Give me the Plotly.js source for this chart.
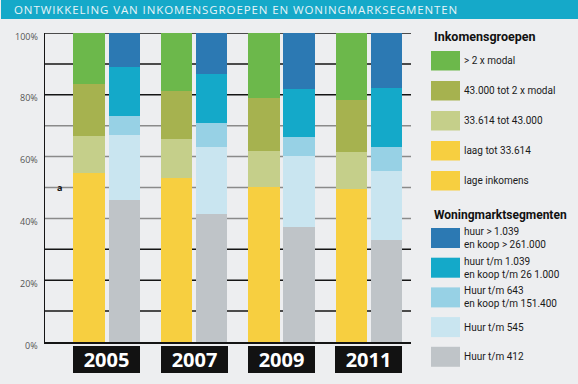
<!DOCTYPE html>
<html>
<head>
<meta charset="utf-8">
<script src="https://cdn.plot.ly/plotly-3.0.1.min.js"></script>
<style>
html,body{margin:0;padding:0;background:#edeef0;}
#chart{width:578px;height:384px;}
</style>
</head>
<body>
<div id="chart"></div>
<script>
// ---------- DATA ----------
const years = ['2005', '2007', '2009', '2011'];

const incomeNames = ['> 2 x modal', '43.000 tot 2 x modal', '33.614 tot 43.000', 'laag tot 33.614', 'lage inkomens'];
const incomeGreen  = [16.4, 18.7, 20.9, 21.6];   // > 2 x modal
const incomeOlive  = [16.8, 15.5, 17.2, 16.8];   // 43.000 tot 2 x modal
const incomeLight  = [12.0, 12.6, 11.6, 12.0];   // 33.614 tot 43.000
const incomeYellow = [54.8, 53.2, 50.3, 49.6];   // laag tot 33.614 / lage inkomens

const housingNames = ['huur > 1.039<br>en koop > 261.000', 'huur t/m 1.039<br>en koop t/m 26 1.000',
                      'Huur t/m 643<br>en koop t/m 151.400', 'Huur t/m 545', 'Huur t/m 412'];
const housingDark  = [10.9, 13.2, 18.0, 17.7];
const housingTeal  = [15.9, 15.9, 15.5, 19.2];
const housingLBlue = [6.1, 7.7, 6.2, 7.7];
const housingPale  = [21.0, 21.7, 23.0, 22.3];
const housingGray  = [46.1, 41.5, 37.3, 33.1];

const yTickVals = [0, 20, 40, 60, 80, 100];
const yTickText = ['0%', '20%', '40%', '60%', '80%', '100%'];

const title = 'ONTWIKKELING VAN INKOMENSGROEPEN EN WONINGMARKSEGMENTEN';
const legendTitle1 = 'Inkomensgroepen';
const legendTitle2 = 'Woningmarktsegmenten';

// ---------- STYLE ----------
const incomeColors  = ['#6cb84b', '#a6b24f', '#c5cf8a', '#f7cf40', '#f7cf40'];
const housingColors = ['#2c79b3', '#14a9c9', '#97d1e5', '#c9e5f0', '#bfc4c8'];

const L = 45, T = 33, W = 366, H = 309;
const px = x => (x - L) / W;
const py = y => 1 - (y - T) / H;

const gx = years.map((_, i) => i);
const off = 0.2014, bw = 0.36;
const incX = gx.map(v => v - off);
const houX = gx.map(v => v + off);

function bar(x, y, color, name) {
  return {type: 'bar', x: x, y: y, width: bw, name: name,
          marker: {color: color, line: {width: 0}}, hoverinfo: 'skip', showlegend: false};
}

const traces = [
  bar(incX, incomeYellow, incomeColors[3], incomeNames[3]),
  bar(incX, incomeLight,  incomeColors[2], incomeNames[2]),
  bar(incX, incomeOlive,  incomeColors[1], incomeNames[1]),
  bar(incX, incomeGreen,  incomeColors[0], incomeNames[0]),
  bar(houX, housingGray,  housingColors[4], housingNames[4]),
  bar(houX, housingPale,  housingColors[3], housingNames[3]),
  bar(houX, housingLBlue, housingColors[2], housingNames[2]),
  bar(houX, housingTeal,  housingColors[1], housingNames[1]),
  bar(houX, housingDark,  housingColors[0], housingNames[0])
];

const shapes = [];
const annotations = [];

// title bar
shapes.push({type: 'rect', xref: 'paper', yref: 'paper', x0: px(1), x1: px(578), y0: py(19), y1: py(0),
             fillcolor: '#15a9c9', line: {width: 0}, layer: 'below'});
annotations.push({xref: 'paper', yref: 'paper', x: px(12), y: py(10), xanchor: 'left', yanchor: 'middle',
                  text: title, showarrow: false,
                  font: {family: 'Open Sans', size: 11.5, color: '#e6f4f8'}});

// gridlines
for (let v = 10; v <= 100; v += 10) {
  const dark = (v >= 80 || v <= 30);
  shapes.push({type: 'line', xref: 'paper', yref: 'y', x0: 0, x1: 1, y0: v, y1: v,
               line: {color: dark ? '#151515' : '#8a8a8a', width: 1.5}, layer: 'below'});
}

// y tick labels (slightly below their gridline, as in the reference)
yTickVals.forEach((v, i) => {
  annotations.push({xref: 'paper', yref: 'y', x: px(40), y: v, xanchor: 'right', yanchor: 'middle', yshift: -3,
                    text: yTickText[i], showarrow: false,
                    font: {family: 'Open Sans', size: 9, color: '#555'}});
});

// small "a" marker
annotations.push({xref: 'paper', yref: 'y', x: px(59), y: 50, xanchor: 'center', yanchor: 'middle',
                  text: '<b>a</b>', showarrow: false, font: {family: 'Open Sans', size: 9, color: '#111'}});

// year boxes
years.forEach((yr, i) => {
  annotations.push({xref: 'x', yref: 'paper', x: gx[i], y: py(346), xanchor: 'center', yanchor: 'top',
                    text: '<b>' + yr + '</b>', showarrow: false, width: 67, height: 27,
                    bgcolor: '#121212', borderpad: 0, borderwidth: 0, align: 'center', valign: 'middle',
                    font: {family: 'Open Sans', size: 20, color: '#ffffff'}});
});

// custom legends
function legendBlock(head, headY, names, colors, top0, step, h, hsize) {
  annotations.push({xref: 'paper', yref: 'paper', x: px(432), y: py(headY), xanchor: 'left', yanchor: 'middle',
                    text: '<b>' + head + '</b>', showarrow: false,
                    font: {family: 'Roboto', size: hsize, color: '#111'}});
  names.forEach((n, i) => {
    const t = top0 + step * i;
    shapes.push({type: 'rect', xref: 'paper', yref: 'paper', x0: px(431), x1: px(460), y0: py(t + h), y1: py(t),
                 fillcolor: colors[i], line: {width: 0}});
    annotations.push({xref: 'paper', yref: 'paper', x: px(462), y: py(t + h / 2), xanchor: 'left', yanchor: 'middle',
                      text: n, showarrow: false, align: 'left',
                      font: {family: 'Roboto', size: 10, color: '#1a1a1a'}});
  });
}
legendBlock(legendTitle1, 37, incomeNames, incomeColors, 51, 30, 19.5, 12.5);
legendBlock(legendTitle2, 215, housingNames, housingColors, 228, 29.7, 20, 12);

const layout = {
  width: 578, height: 384,
  margin: {l: L, r: 578 - L - W, t: T, b: 384 - T - H, pad: 0},
  paper_bgcolor: '#edeef0', plot_bgcolor: '#edeef0',
  barmode: 'stack',
  showlegend: false,
  xaxis: {range: [-0.7065, 3.481], showgrid: false, zeroline: false, showticklabels: false, ticks: '',
          showline: true, linecolor: '#151515', linewidth: 1.5, fixedrange: true},
  yaxis: {range: [0, 100], showgrid: false, zeroline: false, showticklabels: false,
          ticks: '', showline: true, linecolor: '#151515', linewidth: 1.5, fixedrange: true},
  shapes: shapes,
  annotations: annotations,
  font: {family: 'Open Sans'}
};

Plotly.newPlot('chart', traces, layout, {staticPlot: true, displayModeBar: false}).then(() => {
  document.querySelectorAll('.annotation-text').forEach(el => {
    if (el.textContent === title) {
      const bb = el.getBBox();
      el.setAttribute('text-anchor', 'start');
      el.setAttribute('x', bb.x);
      el.style.letterSpacing = '0.9px';
    }
  });
});
</script>
</body>
</html>
